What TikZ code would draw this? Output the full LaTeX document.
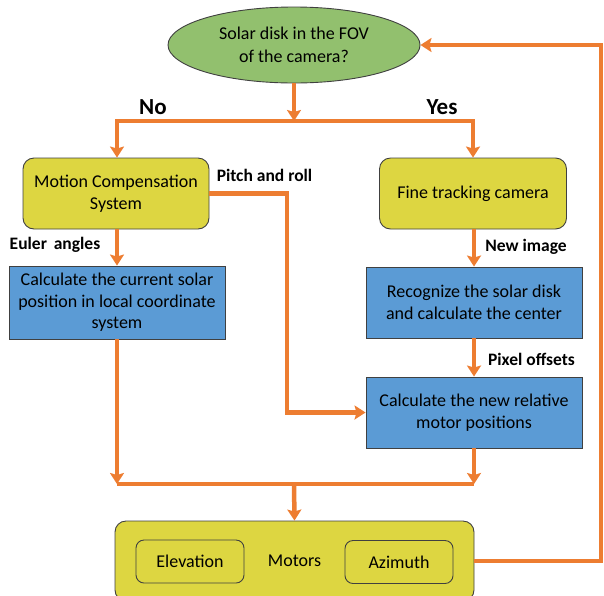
\documentclass[tikz,border=0pt]{standalone}
\usepackage{fontspec}
\setmainfont{Carlito}
\usetikzlibrary{shapes.geometric,arrows.meta}
\definecolor{orng}{HTML}{ED7D31}
\definecolor{yel}{HTML}{DDD641}
\definecolor{blu}{HTML}{5B9BD5}
\definecolor{grn}{HTML}{92C06E}
\tikzset{
  base/.style={draw=black!75, line width=0.9pt, align=center, inner sep=0pt,
    font=\fontsize{18}{22}\selectfont},
  ybox/.style={base, fill=yel, rounded corners=11pt},
  bbox/.style={base, fill=blu},
  ibox/.style={base, fill=yel, rounded corners=8pt, minimum width=108pt, minimum height=43pt},
  lab/.style={font=\fontsize{17.5}{20}\selectfont\bfseries, inner sep=0pt},
  big/.style={font=\fontsize{23}{26}\selectfont\bfseries, inner sep=0pt},
  wire/.style={draw=orng, line width=4.5pt},
  conn/.style={wire, -{Stealth[length=11pt,width=14pt,inset=2pt]}},
}
\begin{document}
\begin{tikzpicture}[x=1pt,y=-1pt]
\useasboundingbox (0,0) rectangle (604,595);
\node[base, ellipse, fill=grn, minimum width=252pt, minimum height=76pt,
  font=\fontsize{18}{23}\selectfont] (el) at (294,45)
  {Solar disk in the FOV\\of the camera?};
\node[ybox, minimum width=186pt, minimum height=71pt] (mcs) at (116,193.5)
  {Motion Compensation\\System};
\node[ybox, minimum width=187pt, minimum height=71pt] (ftc) at (473,193.5)
  {Fine tracking camera};
\node[bbox, minimum width=216pt, minimum height=73pt, font=\fontsize{18}{21.5}\selectfont] (calc1) at (117,302.5)
  {Calculate the current solar\\position in local coordinate\\system};
\node[bbox, minimum width=216pt, minimum height=71pt] (rec) at (474,302.5)
  {Recognize the solar disk\\and calculate the center};
\node[bbox, minimum width=216pt, minimum height=71pt] (calc2) at (474,412.5)
  {Calculate the new relative\\motor positions};
\node[ybox, minimum width=359pt, minimum height=80pt] (mot) at (294.5,561)
  {Motors};
\node[ibox] (elev) at (190,561.5) {Elevation};
\node[ibox] (azi) at (399,562) {Azimuth};

\node[big] (no) at (153,107) {No};
\node[big] (yes) at (442,107) {Yes};
\node[lab] (pr) at (264.5,175) {Pitch and roll};
\node[lab] (eu) at (55,245) {Euler\, angles};
\node[lab] (ni) at (526,247) {New image};
\node[lab] (po) at (531.5,359) {Pixel offsets};

\coordinate (j1) at (294,121);
\coordinate (p1) at (287,193.5);
\coordinate (j2) at (294,484);
\coordinate (fb) at (601,561);

\draw[conn] (el.south) -- (j1);
\draw[conn] (j1) -| (mcs.north -| calc1.north);
\draw[conn] (j1) -| (ftc.north);
\draw[conn] (mcs.south -| calc1.north) -- (calc1.north);
\draw[conn] (mcs.east) -- (p1) |- (calc2.west);
\draw[conn] (ftc.south -| rec.north) -- (rec.north);
\draw[conn] (rec.south) -- (calc2.north);
\draw[conn] (calc1.south) -- (calc1.south |- j2);
\draw[conn] (calc2.south) -- (calc2.south |- j2);
\draw[wire] (calc1.south |- j2) -- (calc2.south |- j2);
\draw[conn] (j2) -- (mot.north);
\draw[conn] (mot.east) -- (fb) |- (el.east);
\end{tikzpicture}
\end{document}
